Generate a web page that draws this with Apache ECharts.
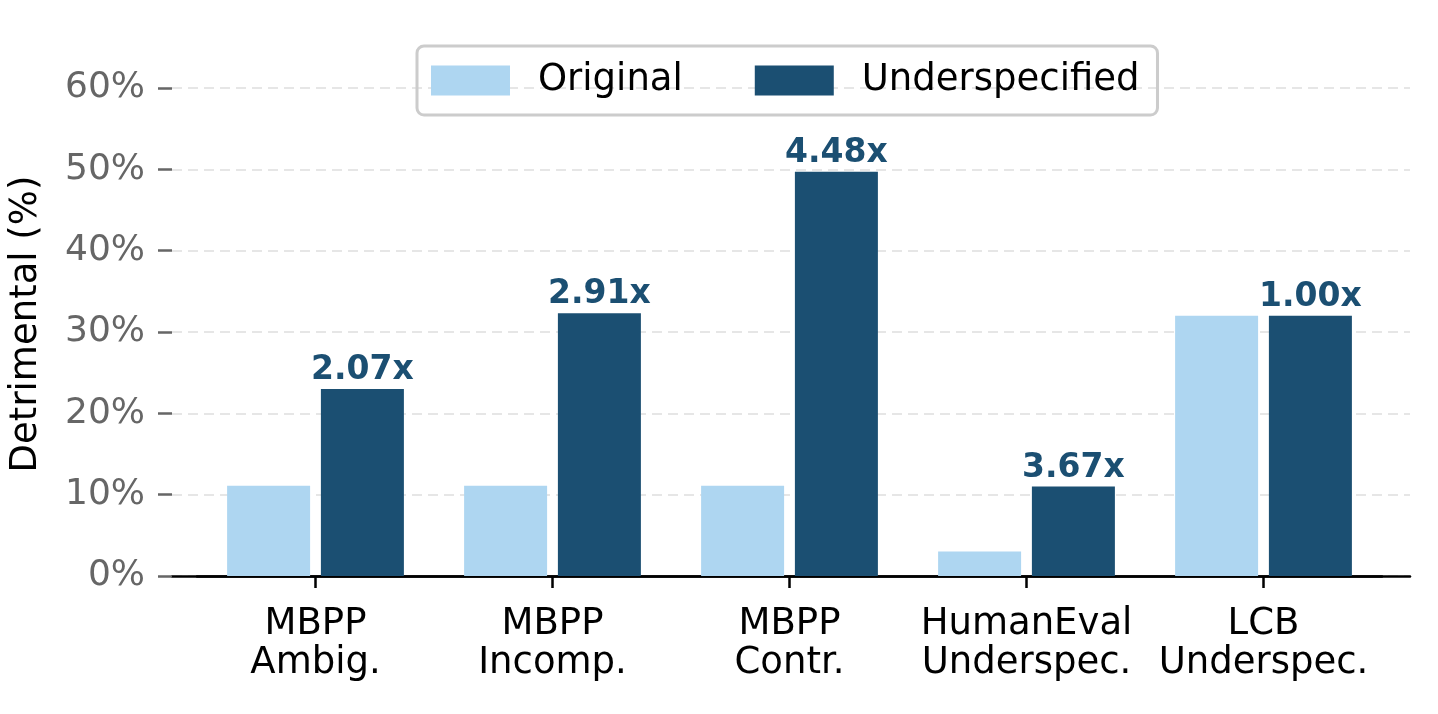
<!DOCTYPE html>
<html>
<head>
<meta charset="utf-8">
<title>Detrimental rate</title>
<script src="https://cdn.jsdelivr.net/npm/echarts@6/dist/echarts.min.js"></script>
<style>
  html, body { margin: 0; padding: 0; background: #fff; }
  #chart { width: 1438px; height: 714px; }
</style>
</head>
<body>
<div id="chart"></div>
<script>
// data
const categories = ['MBPP\nAmbig.', 'MBPP\nIncomp.', 'MBPP\nContr.', 'HumanEval\nUnderspec.', 'LCB\nUnderspec.'];
const original = [11.1, 11.1, 11.1, 3.0, 32.0];
const underspecified = [23.0, 32.3, 49.7, 11.0, 32.0];
const ratioLabels = ['2.07x', '2.91x', '4.48x', '3.67x', '1.00x'];
const yTicks = [0, 10, 20, 30, 40, 50, 60];

const font = 'DejaVu Sans';
const lightBlue = '#aed6f1';
const darkBlue = '#1b4f72';

let chart = echarts.init(document.getElementById('chart'));

let option = {
  backgroundColor: '#fff',
  textStyle: {fontFamily: font},
  legend: {
    top: 46,
    left: 417,
    data: ['Original', 'Underspecified'],
    icon: 'rect',
    itemWidth: 79,
    itemHeight: 30,
    itemGap: 72,
    padding: [16, 18, 16, 14],
    borderColor: '#cccccc',
    borderWidth: 3,
    borderRadius: 7,
    textStyle: {
      fontFamily: font,
      fontSize: 37,
      color: '#000',
      padding: [0, 0, 0, 23]
    }
  },
  grid: [
    // wide grid: y axis, gridlines, x axis line
    {left: 169, right: 28, top: 88, bottom: 138},
    // inner grid: categories and bars
    {left: 197, right: 56, top: 88, bottom: 138}
  ],
  xAxis: [
    {
      gridIndex: 0,
      type: 'value',
      min: 0,
      max: 1,
      axisLine: {show: true, lineStyle: {color: '#000', width: 2.5}},
      axisTick: {show: false},
      axisLabel: {show: false},
      splitLine: {show: false}
    },
    {
      gridIndex: 1,
      type: 'category',
      data: categories,
      axisLine: {show: true, lineStyle: {color: '#000', width: 2.5}},
      axisTick: {show: true, alignWithLabel: true, length: 12, lineStyle: {color: '#000', width: 2.5}},
      axisLabel: {
        fontFamily: font,
        fontSize: 37,
        lineHeight: 39,
        color: '#000',
        margin: 29,
        interval: 0
      },
      splitLine: {show: false}
    }
  ],
  yAxis: [
    {
      gridIndex: 0,
      type: 'value',
      min: yTicks[0],
      max: yTicks[yTicks.length - 1],
      interval: 10,
      name: 'Detrimental (%)',
      nameLocation: 'middle',
      nameGap: 127,
      nameTextStyle: {fontFamily: font, fontSize: 37, color: '#000', padding: [0, 0, 0, 16]},
      axisLine: {show: false},
      axisTick: {show: true, length: 14, lineStyle: {color: '#666', width: 2.5}},
      axisLabel: {
        fontFamily: font,
        fontSize: 36,
        color: '#666',
        margin: 27,
        formatter: '{value}%'
      },
      splitLine: {show: true, lineStyle: {color: '#e6e6e6', width: 2, type: [10, 6]}}
    },
    {
      gridIndex: 1,
      type: 'value',
      min: 0,
      max: 60,
      show: false
    }
  ],
  series: [
    {
      name: 'Original',
      type: 'bar',
      xAxisIndex: 1,
      yAxisIndex: 1,
      data: original,
      barWidth: 83,
      barGap: '13%',
      itemStyle: {color: lightBlue}
    },
    {
      name: 'Underspecified',
      type: 'bar',
      xAxisIndex: 1,
      yAxisIndex: 1,
      data: underspecified,
      barWidth: 83,
      barGap: '13%',
      itemStyle: {color: darkBlue},
      label: {
        show: true,
        position: 'top',
        distance: 2,
        fontFamily: font,
        fontSize: 33,
        fontWeight: 'bold',
        color: darkBlue,
        formatter: function (p) { return ratioLabels[p.dataIndex]; }
      }
    }
  ]
};

chart.setOption(option);
</script>
</body>
</html>
